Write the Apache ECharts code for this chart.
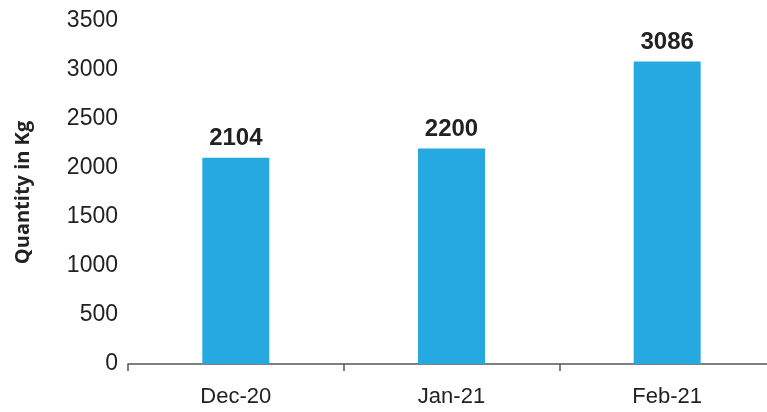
<!DOCTYPE html>
<html>
<head>
<meta charset="utf-8">
<script src="https://cdn.jsdelivr.net/npm/echarts@6/dist/echarts.min.js"></script>
<style>html,body{margin:0;padding:0;background:#fff}#c{width:767px;height:412px}</style>
</head>
<body>
<div id="c"></div>
<script>
var categories = ['Dec-20', 'Jan-21', 'Feb-21'];
var quantities = [2104, 2200, 3086];
var yAxisTitle = 'Quantity in Kg';

var chart = echarts.init(document.getElementById('c'), null, {renderer: 'canvas'});
chart.setOption({
  animation: false,
  grid: {left: 128, width: 647, top: 21, bottom: 48, containLabel: false, outerBoundsMode: 'none'},
  xAxis: {
    type: 'category',
    data: categories,
    axisLine: {lineStyle: {color: '#555', width: 1.5}},
    axisTick: {show: true, alignWithLabel: false, length: 7, lineStyle: {color: '#555', width: 1.5}},
    axisLabel: {color: '#222', fontFamily: 'Liberation Sans', fontSize: 22, margin: 22}
  },
  yAxis: {
    type: 'value',
    min: 0, max: 3500, interval: 500,
    name: yAxisTitle,
    nameLocation: 'middle',
    nameGap: 95,
    nameTextStyle: {color: '#222', fontFamily: 'Open Sans', fontWeight: 'bold', fontSize: 20},
    axisLine: {show: false},
    axisTick: {show: false},
    splitLine: {show: false},
    axisLabel: {color: '#222', fontFamily: 'Liberation Sans', fontSize: 23, margin: 10,
      formatter: function (v) { return String(v); }}
  },
  series: [{
    type: 'bar',
    data: quantities,
    barWidth: 67,
    itemStyle: {color: '#25A9E0'},
    label: {show: true, position: 'top', distance: 7, color: '#222', fontFamily: 'Liberation Sans', fontWeight: 'bold', fontSize: 24}
  }]
});
</script>
</body>
</html>
